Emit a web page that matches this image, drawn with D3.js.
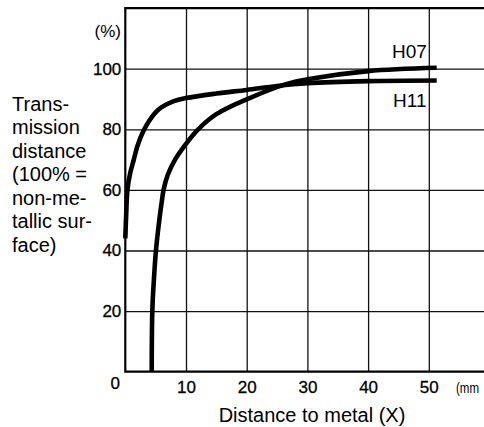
<!DOCTYPE html>
<html lang="en">
<head>
    <meta charset="UTF-8">
    <title>transmission distance vs metal</title>
    <script src="https://d3js.org/d3.v7.min.js"></script>
    <style>
        body { margin: 0; background: #fff; }
        .tick text, .lbl { font-family: "Liberation Sans Narrow", "Arial Narrow", "Liberation Sans", sans-serif; }
        .sans { font-family: "Liberation Sans", Arial, sans-serif; }
    </style>
</head>
<body>
    <svg></svg>
    <script>
        const width = 484;
        const height = 427;
        // plot box; right side runs off the picture like in the scan
        const x0 = 125.3, y0 = 371.7, pxPerMm = 6.07, pxPerPct = 3.03;

        const xTicks = [10, 20, 30, 40, 50];
        const yTicks = [20, 40, 60, 80, 100];

        const h11X = [0, 0.15, 0.35, 0.8, 1.4, 2, 3, 4, 5, 6, 8, 10, 15, 20, 25, 30, 40, 51.3];
        const h11Y = [44, 52, 60, 65.5, 70, 74.5, 79.5, 83, 85.6, 87.3, 89.3, 90.3, 91.8, 93, 94.3, 95.2, 95.9, 96.1];

        const h07X = [4.35, 4.45, 4.7, 5.05, 5.6, 6.0, 6.3, 7, 8.2, 10, 12, 15, 20, 26.6, 30, 40, 51.3];
        const h07Y = [0, 20, 30, 40, 50, 56, 60, 65, 70, 75.2, 80, 85, 89.9, 95, 96.5, 99.2, 100.3];

        const svg = d3.select("svg")
            .attr("width", width)
            .attr("height", height);

        const x = d3.scaleLinear().domain([0, 60]).range([x0, x0 + 60 * pxPerMm]);
        const y = d3.scaleLinear().domain([0, 120]).range([y0, y0 - 120 * pxPerPct]);

        // grid + tick labels
        const gx = svg.append("g")
            .attr("transform", `translate(0, ${y0})`)
            .call(d3.axisBottom(x).tickValues(xTicks).tickSize(-(y0 - y(120))).tickPadding(9));
        gx.select(".domain").remove();
        gx.selectAll(".tick line").attr("stroke", "#111").attr("stroke-width", 1.3);
        gx.selectAll(".tick text").attr("font-size", 17).attr("fill", "#000")
            .attr("stroke", "#000").attr("stroke-width", 0.3);

        const gy = svg.append("g")
            .attr("transform", `translate(${x0}, 0)`)
            .call(d3.axisLeft(y).tickValues(yTicks).tickSize(-(width - x0)).tickPadding(4));
        gy.select(".domain").remove();
        gy.selectAll(".tick line").attr("stroke", "#111").attr("stroke-width", 1.3);
        gy.selectAll(".tick text").attr("font-size", 17).attr("fill", "#000")
            .attr("stroke", "#000").attr("stroke-width", 0.3);

        // frame: left, bottom, top
        svg.append("path")
            .attr("d", `M${width},${y(120)}H${x0}V${y0}H${width}`)
            .attr("fill", "none")
            .attr("stroke", "#000")
            .attr("stroke-width", 2.2);

        const line = d3.line()
            .x(d => x(d[0]))
            .y(d => y(d[1]))
            .curve(d3.curveCatmullRom.alpha(0.5));

        [[h11X, h11Y], [h07X, h07Y]].forEach(([xs, ys]) => {
            svg.append("path")
                .datum(xs.map((v, i) => [v, ys[i]]))
                .attr("d", line)
                .attr("fill", "none")
                .attr("stroke", "#000")
                .attr("stroke-width", 4.6)
                .attr("stroke-linecap", "butt");
        });

        // labels
        svg.append("text").attr("class", "lbl").attr("x", x(0) - 10).attr("y", 389)
            .attr("text-anchor", "middle").attr("font-size", 17)
            .attr("stroke", "#000").attr("stroke-width", 0.3).text("0");
        svg.append("text").attr("class", "lbl").attr("x", 456).attr("y", 393)
            .attr("font-size", 14).attr("textLength", 23).attr("lengthAdjust", "spacingAndGlyphs")
            .text("(mm");
        svg.append("text").attr("class", "lbl").attr("x", 121).attr("y", 37)
            .attr("text-anchor", "end").attr("font-size", 17).text("(%)");
        svg.append("text").attr("class", "lbl").attr("x", 392).attr("y", 58)
            .attr("font-size", 19).text("H07");
        svg.append("text").attr("class", "lbl").attr("x", 393).attr("y", 107)
            .attr("font-size", 19).text("H11");

        svg.append("text").attr("class", "sans").attr("x", 312).attr("y", 421.5)
            .attr("text-anchor", "middle").attr("font-size", 20).text("Distance to metal (X)");

        const yTitle = ["Trans-", "mission", "distance", "(100% =", "non-me-", "tallic sur-", "face)"];
        svg.append("text").attr("class", "sans").attr("font-size", 20)
            .selectAll("tspan").data(yTitle).join("tspan")
            .attr("x", 12).attr("y", (d, i) => 110.5 + i * 23.5)
            .text(d => d);
    </script>
</body>
</html>
